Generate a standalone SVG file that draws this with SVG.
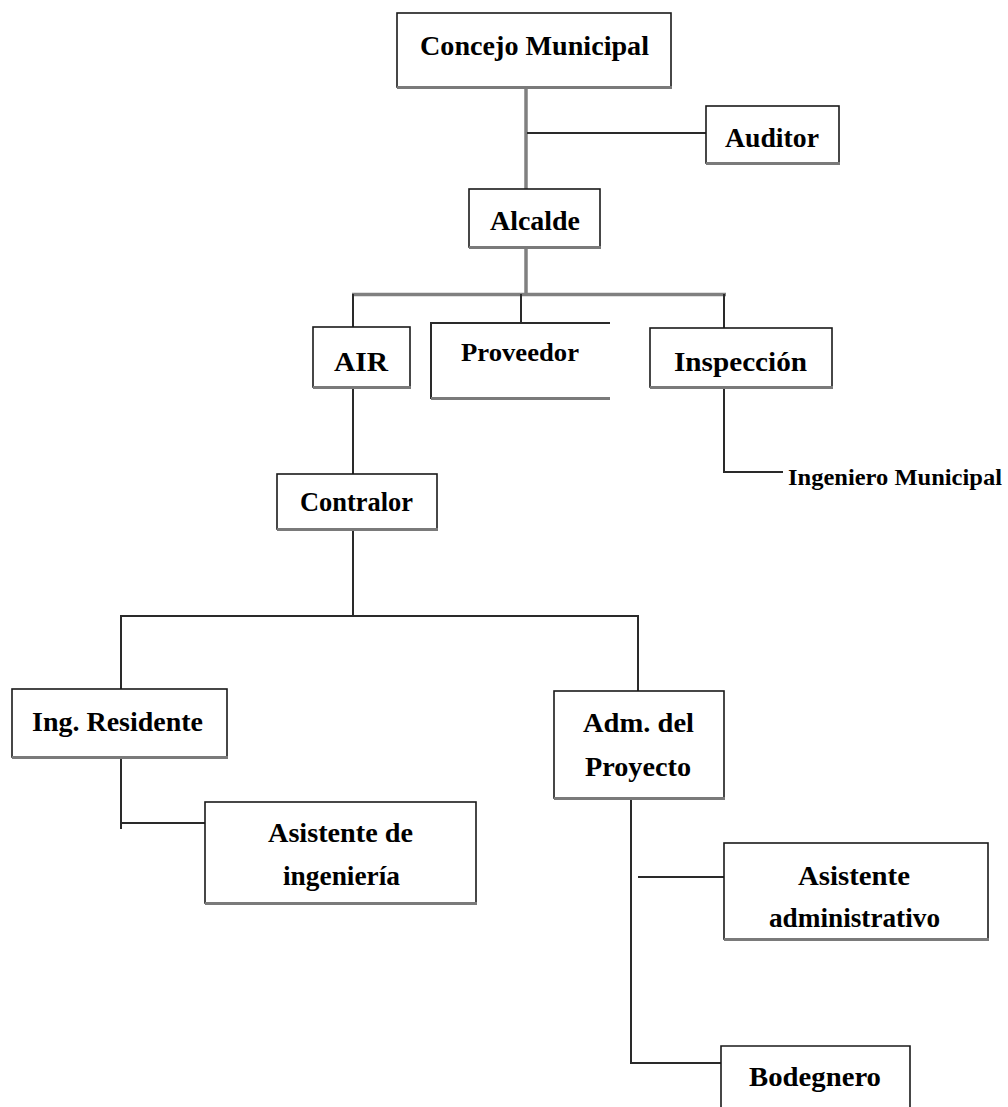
<svg xmlns="http://www.w3.org/2000/svg" width="1008" height="1107" viewBox="0 0 1008 1107">
<style>
.box{fill:#fff;stroke:#1a1a1a;stroke-width:1.6}
.sh{stroke:#7a7a7a;stroke-width:3;fill:none}
.trunk{stroke:#808080;stroke-width:3.5;fill:none}
.ln{stroke:#2a2a2a;stroke-width:2;fill:none}
text{font-family:"Liberation Serif","Times New Roman",serif;font-weight:bold;font-size:28px;fill:#000}
text.m{font-size:25px}
text.s{font-size:23px}
</style>
<rect width="1008" height="1107" fill="#fff"/>
<g id="connectors">
<line class="trunk" x1="526" y1="88" x2="526" y2="189"/>
<line class="ln" x1="527" y1="133" x2="706" y2="133"/>
<line class="trunk" x1="526" y1="248" x2="526" y2="295"/>
<line class="trunk" x1="352" y1="294.5" x2="726" y2="294.5"/>
<line class="ln" x1="353" y1="294" x2="353" y2="327"/>
<line class="ln" x1="521" y1="294" x2="521" y2="323"/>
<line class="ln" x1="724" y1="294" x2="724" y2="328"/>
<line class="ln" x1="353" y1="388" x2="353" y2="474"/>
<polyline class="ln" points="724,388 724,472 783,472"/>
<line class="ln" x1="353" y1="530" x2="353" y2="616"/>
<polyline class="ln" points="121,689 121,616 638,616 638,691"/>
<polyline class="ln" points="121,758 121,829"/>
<line class="ln" x1="121" y1="823" x2="205" y2="823"/>
<polyline class="ln" points="631,790 631,1063 721,1063"/>
<line class="ln" x1="638" y1="877" x2="724" y2="877"/>
</g>
<g id="concejo">
<rect class="box" x="397" y="13" width="274" height="74"/>
<line class="sh" x1="397" y1="87.5" x2="672" y2="87.5"/>
<text x="420" y="55" textLength="229" lengthAdjust="spacingAndGlyphs">Concejo Municipal</text>
</g>
<g id="auditor">
<rect class="box" x="706" y="106" width="133" height="57"/>
<line class="sh" x1="706" y1="163.5" x2="840" y2="163.5"/>
<text x="725" y="147" textLength="94" lengthAdjust="spacingAndGlyphs">Auditor</text>
</g>
<g id="alcalde">
<rect class="box" x="469" y="189" width="131" height="58"/>
<line class="sh" x1="469" y1="247.5" x2="601" y2="247.5"/>
<text x="490" y="230" textLength="90" lengthAdjust="spacingAndGlyphs">Alcalde</text>
</g>
<g id="air">
<rect class="box" x="313" y="327" width="97" height="60"/>
<line class="sh" x1="313" y1="387.5" x2="411" y2="387.5"/>
<text x="334" y="371" textLength="54" lengthAdjust="spacingAndGlyphs">AIR</text>
</g>
<g id="proveedor">
<polyline class="ln" points="610,323 431,323 431,399"/>
<line class="sh" x1="431" y1="398.5" x2="610" y2="398.5"/>
<text class="m" x="461" y="361" textLength="118" lengthAdjust="spacingAndGlyphs">Proveedor</text>
</g>
<g id="inspeccion">
<rect class="box" x="650" y="328" width="182" height="59"/>
<line class="sh" x1="650" y1="387.5" x2="833" y2="387.5"/>
<text x="674" y="371" textLength="133" lengthAdjust="spacingAndGlyphs">Inspección</text>
</g>
<g id="ingeniero-municipal">
<text class="s" x="788" y="485" textLength="214" lengthAdjust="spacingAndGlyphs">Ingeniero Municipal</text>
</g>
<g id="contralor">
<rect class="box" x="277" y="474" width="160" height="55"/>
<line class="sh" x1="277" y1="529.5" x2="438" y2="529.5"/>
<text x="300" y="511" textLength="113" lengthAdjust="spacingAndGlyphs">Contralor</text>
</g>
<g id="ing-residente">
<rect class="box" x="12" y="689" width="215" height="68"/>
<line class="sh" x1="12" y1="757.5" x2="228" y2="757.5"/>
<text x="32" y="731" textLength="171" lengthAdjust="spacingAndGlyphs">Ing. Residente</text>
</g>
<g id="asistente-ingenieria">
<rect class="box" x="205" y="802" width="271" height="101"/>
<line class="sh" x1="205" y1="903.5" x2="477" y2="903.5"/>
<text x="268" y="842" textLength="145" lengthAdjust="spacingAndGlyphs">Asistente de</text>
<text x="283" y="885" textLength="117" lengthAdjust="spacingAndGlyphs">ingeniería</text>
</g>
<g id="adm-proyecto">
<rect class="box" x="554" y="691" width="170" height="107"/>
<line class="sh" x1="554" y1="798.5" x2="725" y2="798.5"/>
<text x="583" y="732" textLength="111" lengthAdjust="spacingAndGlyphs">Adm. del</text>
<text x="585" y="776" textLength="106" lengthAdjust="spacingAndGlyphs">Proyecto</text>
</g>
<g id="asistente-administrativo">
<rect class="box" x="724" y="843" width="264" height="96"/>
<line class="sh" x1="724" y1="939.5" x2="989" y2="939.5"/>
<text x="798" y="885" textLength="112" lengthAdjust="spacingAndGlyphs">Asistente</text>
<text x="769" y="927" textLength="171" lengthAdjust="spacingAndGlyphs">administrativo</text>
</g>
<g id="bodegnero">
<polyline class="box" points="721,1107 721,1046 910,1046 910,1107" fill="#fff"/>
<text x="749" y="1086" textLength="132" lengthAdjust="spacingAndGlyphs">Bodegnero</text>
</g>
</svg>
